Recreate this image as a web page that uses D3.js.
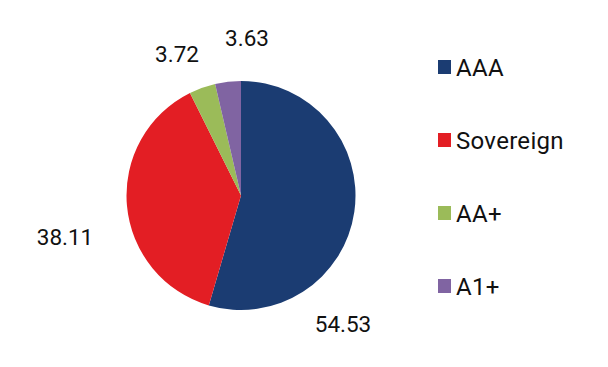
<!DOCTYPE html>
<html><head><meta charset="utf-8">
<script src="https://cdn.jsdelivr.net/npm/d3@7"></script>
<style>body{margin:0;background:#fff}svg{display:block}text{font-family:Roboto,"Noto Sans",sans-serif}</style>
</head><body>
<svg id="c" width="608" height="367"></svg>
<script>
const categories = ["AAA", "Sovereign", "AA+", "A1+"];
const values = [54.53, 38.11, 3.72, 3.63];
const colors = ["#1b3c72", "#e31e24", "#9bbb59", "#8064a2"];
const labelPos = [[343, 332], [65, 245], [177, 62], [247, 46]];

const svg = d3.select("#c");
const cx = 241, cy = 195.5, r = 114.5;
const pie = d3.pie().sort(null).value(d => d)(values);
const arc = d3.arc().innerRadius(0).outerRadius(r);
const g = svg.append("g").attr("transform", `translate(${cx},${cy})`);
g.selectAll("path").data(pie).join("path")
  .attr("d", arc).attr("fill", (d, i) => colors[i]);

svg.selectAll("text.lbl").data(values).join("text").attr("class", "lbl")
  .attr("x", (d, i) => labelPos[i][0]).attr("y", (d, i) => labelPos[i][1])
  .attr("text-anchor", "middle").attr("font-size", 22.5).attr("fill", "#111")
  .text(d => d.toFixed(2));

const ly = d3.scalePoint().domain(categories).range([67, 286]);
const leg = svg.selectAll("g.leg").data(categories).join("g").attr("class", "leg")
  .attr("transform", d => `translate(438,${ly(d)})`);
leg.append("rect").attr("x", 0).attr("y", -7).attr("width", 13).attr("height", 14)
  .attr("fill", (d, i) => colors[i]);
leg.append("text").attr("x", 18).attr("y", 9).attr("font-size", 24).attr("letter-spacing", 0.3)
  .attr("fill", "#111").text(d => d);
</script>
</body></html>
